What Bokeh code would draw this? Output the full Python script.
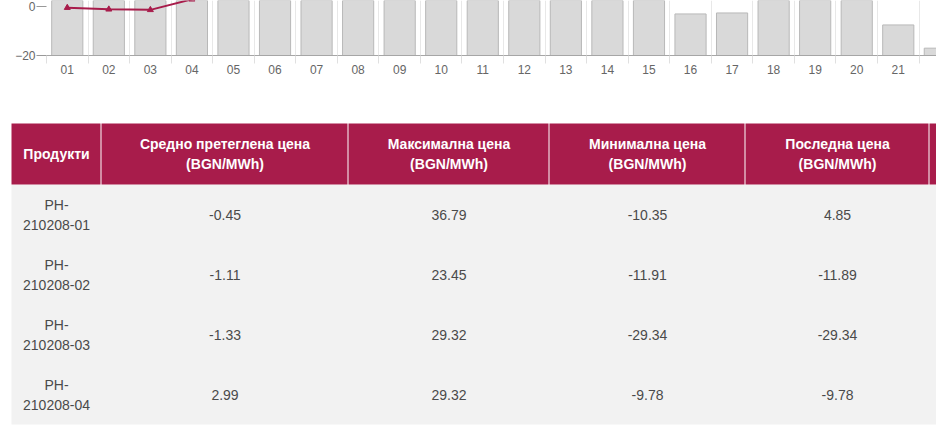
from bokeh.plotting import figure
from bokeh.layouts import column
from bokeh.models import Range1d, FixedTicker
from bokeh.core.properties import value
from bokeh.embed import file_html
from bokeh.resources import INLINE

# ---------------- data ----------------
hours = ["01", "02", "03", "04", "05", "06", "07", "08", "09", "10", "11",
         "12", "13", "14", "15", "16", "17", "18", "19", "20", "21", "22"]
# grey bars (tops read on the left axis scale; most run above the cropped top)
bar_values = [30, 30, 30, 30, 30, 30, 30, 30, 30, 30, 30,
              30, 30, 30, 30, -3.0, -2.6, 30, 30, 30, -7.5, -17.0]
price_hours = ["01", "02", "03", "04"]
avg_price = [-0.45, -1.11, -1.33, 2.99]
y_ticks = [0, -20]

table_headers = ["Продукти",
                 "Средно претеглена цена\n(BGN/MWh)",
                 "Максимална цена\n(BGN/MWh)",
                 "Минимална цена\n(BGN/MWh)",
                 "Последна цена\n(BGN/MWh)"]
products = ["PH-210208-01", "PH-210208-02", "PH-210208-03", "PH-210208-04"]
avg_col = ["-0.45", "-1.11", "-1.33", "2.99"]
max_col = ["36.79", "23.45", "29.32", "29.32"]
min_col = ["-10.35", "-11.91", "-29.34", "-9.78"]
last_col = ["4.85", "-11.89", "-29.34", "-9.78"]

# ---------------- styles / layout ----------------
CRIMSON = "#a81c4b"
FONT = value("Liberation Sans")
W = 936

# ---------------- chart ----------------
xs = [hours.index(h) + 1 for h in hours]
px = [hours.index(h) + 1 for h in price_hours]

chart = figure(width=W, height=100, output_backend="svg", toolbar_location=None,
               x_range=Range1d(0.5, 21.92), y_range=Range1d(-20, 2.5),
               min_border_left=46, min_border_right=0, min_border_top=0,
               min_border_bottom=45)
chart.frame_align = False
chart.outline_line_color = None
chart.background_fill_color = "white"

chart.vbar(x=xs, top=bar_values, bottom=-20, width=0.75,
           fill_color="#d9d9d9", line_color="#b8b8b8", line_width=1)
chart.line(x=px, y=avg_price, line_color=CRIMSON, line_width=2)
chart.scatter(x=px, y=avg_price, marker="triangle", size=6,
              fill_color=CRIMSON, line_color=CRIMSON)

bounds = [x - 0.5 for x in xs] + [xs[-1] + 0.5]
chart.xaxis.ticker = FixedTicker(ticks=xs, minor_ticks=bounds)
chart.xaxis.major_label_overrides = {x: h for x, h in zip(xs, hours)}
chart.xaxis.major_tick_line_color = None
chart.xaxis.major_tick_out = 0
chart.xaxis.minor_tick_out = 8
chart.xaxis.minor_tick_in = 0
chart.xaxis.minor_tick_line_color = "#e0e0e0"
chart.xaxis.axis_line_color = "#a6a6a6"
chart.xaxis.major_label_standoff = 1
chart.xaxis.major_label_text_color = "#666666"
chart.xaxis.major_label_text_font_size = "12px"
chart.xaxis.major_label_text_font = "Liberation Sans"

chart.yaxis.ticker = FixedTicker(ticks=y_ticks)
chart.yaxis.axis_line_color = None
chart.yaxis.major_tick_out = 10
chart.yaxis.major_tick_in = 0
chart.yaxis.major_tick_line_color = "#999999"
chart.yaxis.minor_tick_line_color = None
chart.yaxis.major_label_standoff = 1
chart.yaxis.major_label_text_color = "#666666"
chart.yaxis.major_label_text_font_size = "12px"
chart.yaxis.major_label_text_font = "Liberation Sans"

chart.xgrid.ticker = FixedTicker(ticks=bounds)
chart.xgrid.grid_line_color = "#e8e8e8"
chart.ygrid.grid_line_color = None

# ---------------- table ----------------
T_H = 326
col_edges = [11, 101, 348, 549, 745, 929, 1130]
head_top, head_bot = 23, 84
row_h = 60

tbl = figure(width=W, height=T_H, output_backend="svg", toolbar_location=None,
             x_range=Range1d(0, W), y_range=Range1d(T_H, 0),
             x_axis_location=None, y_axis_location=None,
             min_border=0, min_border_left=0, min_border_right=0,
             min_border_top=0, min_border_bottom=0)
tbl.frame_align = False
tbl.outline_line_color = None
tbl.xgrid.grid_line_color = None
tbl.ygrid.grid_line_color = None

n_rows = len(products)
tbl.quad(left=[col_edges[0]], right=[col_edges[-1]], top=[head_bot],
         bottom=[head_bot + row_h * n_rows], fill_color="#f2f2f2", line_color=None)
tbl.quad(left=col_edges[:-1], right=[e - 1 for e in col_edges[1:]],
         top=head_top, bottom=head_bot, fill_color=CRIMSON, line_color=None)

centers = [(a + b) / 2 for a, b in zip(col_edges[:-1], col_edges[1:])]
head_mid = (head_top + head_bot) / 2

hx, hy, ht = [], [], []
for cx, h in zip(centers, table_headers):
    lines = h.split("\n")
    n = len(lines)
    for i, ln in enumerate(lines):
        hx.append(cx)
        hy.append(head_mid + (i - (n - 1) / 2) * 20)
        ht.append(ln)
tbl.text(x=hx, y=hy, text=ht, text_align="center", text_baseline="middle",
         text_font=FONT, text_font_size="14px", text_font_style="bold",
         text_color="white")

bx, by, bt = [], [], []
columns = [products, avg_col, max_col, min_col, last_col]
for r in range(n_rows):
    cy = head_bot + row_h * r + row_h / 2
    for c, col in enumerate(columns):
        cell = col[r]
        if c == 0:
            lines = [cell[:3], cell[3:]]
        else:
            lines = [cell]
        n = len(lines)
        for i, ln in enumerate(lines):
            bx.append(centers[c])
            by.append(cy + (i - (n - 1) / 2) * 20)
            bt.append(ln)
tbl.text(x=bx, y=by, text=bt, text_align="center", text_baseline="middle",
         text_font=FONT, text_font_size="14px", text_color="#4a4a4a")

p = column(chart, tbl)
open("out.html", "w").write(file_html(p, INLINE))
